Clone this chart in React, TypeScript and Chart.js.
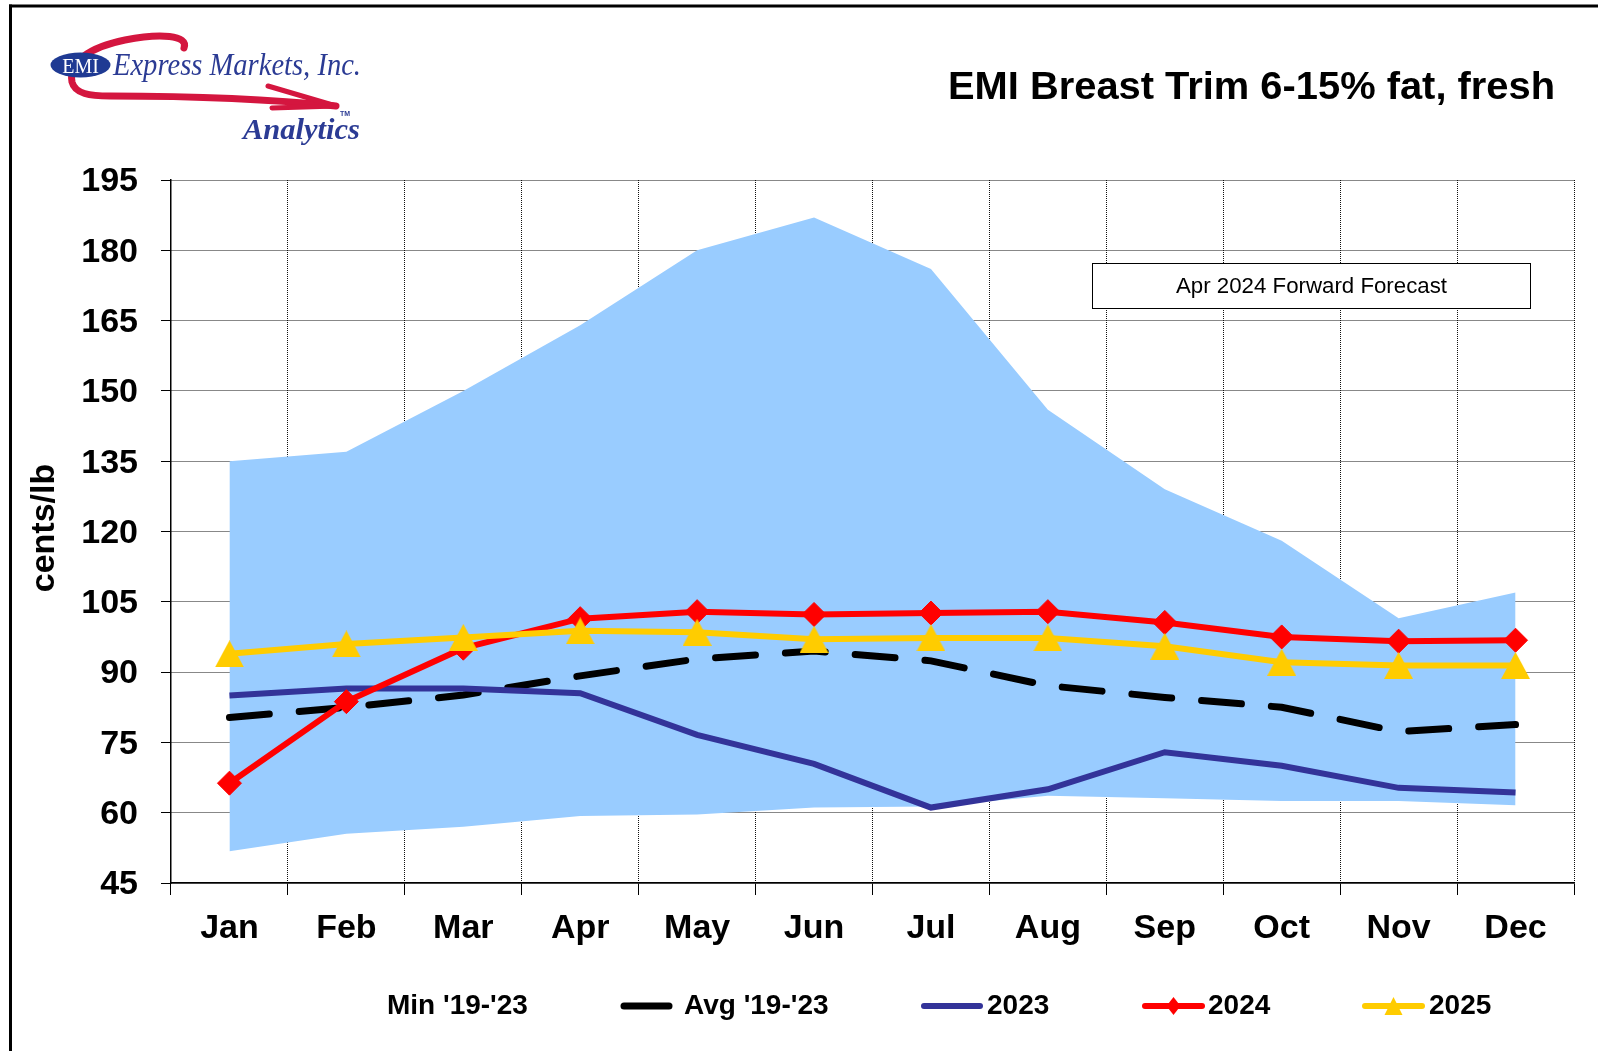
import React, { useEffect, useRef } from 'react';
import { Chart, registerables } from 'chart.js';

Chart.register(...registerables);

const months = ['Jan', 'Feb', 'Mar', 'Apr', 'May', 'Jun', 'Jul', 'Aug', 'Sep', 'Oct', 'Nov', 'Dec'];
const yTicks = [45, 60, 75, 90, 105, 120, 135, 150, 165, 180, 195];

const max1923 = [135, 137, 150, 164, 180, 187, 176, 146, 129, 118, 101.5, 107];
const min1923 = [51.8, 55.5, 57.0, 59.3, 59.6, 61.1, 61.3, 63.6, 63.1, 62.5, 62.5, 61.6];
const avg1923 = [80.3, 82.5, 85.1, 89.2, 92.8, 94.5, 92.4, 87.1, 84.6, 82.5, 77.3, 78.8];
const s2023 = [85.0, 86.5, 86.5, 85.5, 76.6, 70.4, 61.1, 65.0, 72.9, 70.0, 65.3, 64.3];
const s2024 = [66.3, 83.7, 95.1, 101.4, 102.9, 102.3, 102.6, 102.9, 100.6, 97.5, 96.6, 96.8];
const s2025 = [93.9, 96.0, 97.4, 98.8, 98.5, 97.0, 97.3, 97.3, 95.5, 92.1, 91.4, 91.4];

const titleText = 'EMI Breast Trim 6-15% fat, fresh';
const forecastText = 'Apr 2024 Forward Forecast';
const yAxisTitle = 'cents/lb';

const SANS = '"Liberation Sans", Arial, sans-serif';
const SERIF = '"Liberation Serif", "Times New Roman", serif';

const COL_AREA = '#99CCFF';
const COL_2023 = '#333399';
const COL_2024 = '#FF0000';
const COL_2025 = '#FFCC00';
const COL_LOGO = '#2B3B94';
const COL_SWOOSH = '#D4163F';

function makeTriangle(w: number, h: number, color: string) {
  const c = document.createElement('canvas');
  c.width = w;
  c.height = h;
  const g = c.getContext('2d')!;
  g.fillStyle = color;
  g.beginPath();
  g.moveTo(w / 2, 0);
  g.lineTo(w, h);
  g.lineTo(0, h);
  g.closePath();
  g.fill();
  return c;
}

function fitText(ctx: CanvasRenderingContext2D, text: string, x: number, y: number, targetW: number, align: 'left' | 'right' | 'center') {
  const w = ctx.measureText(text).width;
  let sx = targetW / w;
  if (sx > 1.12 || sx < 0.85) sx = 1;
  ctx.save();
  let ax = x;
  if (align === 'right') ax = x - w * sx;
  if (align === 'center') ax = x - (w * sx) / 2;
  ctx.translate(ax, y);
  ctx.scale(sx, 1);
  ctx.textAlign = 'left';
  ctx.fillText(text, 0, 0);
  ctx.restore();
}

function drawLogo(ctx: CanvasRenderingContext2D) {
  ctx.save();
  // red swoosh
  ctx.strokeStyle = COL_SWOOSH;
  ctx.lineCap = 'round';
  ctx.lineJoin = 'round';
  ctx.lineWidth = 7;
  ctx.beginPath();
  ctx.moveTo(184, 48);
  ctx.bezierCurveTo(189, 35, 160, 33, 125, 40);
  ctx.bezierCurveTo(90, 47, 68, 62, 72, 82);
  ctx.bezierCurveTo(75, 94, 90, 96, 110, 96);
  ctx.bezierCurveTo(180, 96, 260, 98, 336, 106);
  ctx.stroke();
  ctx.lineWidth = 5;
  ctx.beginPath();
  ctx.moveTo(268, 86);
  ctx.lineTo(336, 106);
  ctx.lineTo(272, 108);
  ctx.stroke();
  // ellipse
  ctx.fillStyle = '#1F3A93';
  ctx.beginPath();
  ctx.ellipse(80.5, 65, 30, 12.5, 0, 0, Math.PI * 2);
  ctx.fill();
  ctx.fillStyle = '#FFFFFF';
  ctx.font = `20px ${SERIF}`;
  ctx.textBaseline = 'alphabetic';
  fitText(ctx, 'EMI', 80.5, 72.5, 44, 'center');
  // company name
  ctx.fillStyle = COL_LOGO;
  ctx.font = `italic 31px ${SERIF}`;
  fitText(ctx, 'Express Markets, Inc.', 113, 75, 248, 'left');
  ctx.font = `italic bold 30px ${SERIF}`;
  fitText(ctx, 'Analytics', 243, 139, 117, 'left');
  ctx.font = `bold 7px ${SANS}`;
  ctx.fillText('TM', 340, 116);
  ctx.restore();
}

const decorPlugin = {
  id: 'decor',
  afterDraw(chart: any) {
    const ctx: CanvasRenderingContext2D = chart.ctx;
    ctx.save();
    // outer frame (top and left)
    ctx.fillStyle = '#000';
    ctx.fillRect(9, 4.5, 1598, 3);
    ctx.fillRect(9, 4.5, 3, 1051);

    drawLogo(ctx);

    // title
    ctx.fillStyle = '#000';
    ctx.font = `bold 39px ${SANS}`;
    ctx.textBaseline = 'alphabetic';
    fitText(ctx, titleText, 1555, 99, 607, 'right');

    // forecast box
    ctx.fillStyle = '#FFF';
    ctx.fillRect(1092.5, 263.5, 438, 45);
    ctx.strokeStyle = '#000';
    ctx.lineWidth = 1;
    ctx.strokeRect(1092.5, 263.5, 438, 45);
    ctx.fillStyle = '#000';
    ctx.font = `22px ${SANS}`;
    ctx.textBaseline = 'middle';
    fitText(ctx, forecastText, 1311.5, 287, 271, 'center');

    // y axis title
    ctx.save();
    ctx.translate(45, 528);
    ctx.rotate(-Math.PI / 2);
    ctx.font = `bold 34px ${SANS}`;
    ctx.textBaseline = 'middle';
    ctx.textAlign = 'center';
    ctx.fillText(yAxisTitle, 0, 0);
    ctx.restore();

    // legend
    const ly = 1006;
    const ds = chart.data.datasets;
    const items = [
      { i: 1, x0: 0, x1: 0, tx: 387 },
      { i: 2, x0: 621, x1: 672, tx: 684 },
      { i: 3, x0: 921, x1: 983, tx: 987 },
      { i: 4, x0: 1142, x1: 1205, tx: 1208 },
      { i: 5, x0: 1362, x1: 1425, tx: 1429 },
    ];
    ctx.font = `bold 28px ${SANS}`;
    ctx.textBaseline = 'middle';
    ctx.textAlign = 'left';
    for (const it of items) {
      const d = ds[it.i];
      if (it.x1 > it.x0) {
        ctx.save();
        ctx.strokeStyle = d.borderColor;
        ctx.lineWidth = d.borderWidth;
        ctx.lineCap = 'round';
        ctx.beginPath();
        ctx.moveTo(it.x0 + 3, ly);
        ctx.lineTo(it.x1 - 3, ly);
        ctx.stroke();
        const cx = (it.x0 + it.x1) / 2;
        if (d.pointStyle === 'rectRot') {
          ctx.fillStyle = d.pointBackgroundColor;
          ctx.beginPath();
          ctx.moveTo(cx - 7, ly);
          ctx.lineTo(cx, ly - 9);
          ctx.lineTo(cx + 7, ly);
          ctx.lineTo(cx, ly + 9);
          ctx.closePath();
          ctx.fill();
        } else if (d.pointStyle && typeof d.pointStyle === 'object') {
          ctx.fillStyle = d.borderColor;
          ctx.beginPath();
          ctx.moveTo(cx, ly - 9);
          ctx.lineTo(cx + 9, ly + 9);
          ctx.lineTo(cx - 9, ly + 9);
          ctx.closePath();
          ctx.fill();
        }
        ctx.restore();
      }
      ctx.fillStyle = '#000';
      ctx.fillText(d.label, it.tx, ly);
    }
    ctx.restore();
  },
};

export default function App() {
  const ref = useRef<HTMLCanvasElement>(null);
  useEffect(() => {
    const canvas = ref.current!;
    const tri = makeTriangle(29, 27, COL_2025);
    const chart = new Chart(canvas, {
      type: 'line',
      data: {
        labels: months,
        datasets: [
          { label: "Max '19-'23", data: max1923, borderWidth: 0, borderColor: 'rgba(0,0,0,0)', backgroundColor: COL_AREA, pointRadius: 0, fill: 1, order: 6 } as any,
          { label: "Min '19-'23", data: min1923, borderWidth: 0, borderColor: '#FFFFFF', backgroundColor: '#FFFFFF', pointRadius: 0, fill: false, order: 5 },
          { label: "Avg '19-'23", data: avg1923, borderColor: '#000000', borderWidth: 7, borderDash: [40, 30], borderCapStyle: 'round', pointRadius: 0, fill: false, order: 4 },
          { label: '2023', data: s2023, borderColor: COL_2023, borderWidth: 6, pointRadius: 0, fill: false, order: 3 },
          { label: '2024', data: s2024, borderColor: COL_2024, borderWidth: 6, pointStyle: 'rectRot', pointRadius: 12, pointBackgroundColor: COL_2024, pointBorderColor: COL_2024, pointBorderWidth: 1, fill: false, order: 2 },
          { label: '2025', data: s2025, borderColor: COL_2025, borderWidth: 6, pointStyle: tri, pointRadius: 14, pointBackgroundColor: COL_2025, pointBorderColor: COL_2025, fill: false, order: 1 },
        ],
      },
      options: {
        responsive: false,
        animation: false,
        devicePixelRatio: 1,
        events: [],
        layout: { padding: { left: 0, right: 24, top: 180, bottom: 0 } },
        plugins: {
          legend: { display: false },
          tooltip: { enabled: false },
          title: { display: false },
        },
        scales: {
          x: {
            type: 'category',
            offset: true,
            grid: { offset: true, color: '#111', lineWidth: 1, drawTicks: true, tickLength: 12, tickColor: '#000', tickWidth: 1 },
            border: { display: true, color: '#000', width: 1.5, dash: [1, 1] },
            ticks: { color: '#000', font: { family: SANS, size: 34, weight: 'bold' }, padding: 13, maxRotation: 0, autoSkip: false },
            afterFit: (s: any) => { s.height = 168; },
          },
          y: {
            min: 45,
            max: 195,
            afterBuildTicks: (s: any) => { s.ticks = yTicks.map((v) => ({ value: v })); },
            grid: { color: '#111', lineWidth: 1, drawTicks: true, tickLength: 10, tickColor: '#000', tickWidth: 1 },
            border: { display: true, color: '#000', width: 1.5, dash: [1, 1] },
            ticks: { color: '#000', font: { family: SANS, size: 34, weight: 'bold' }, padding: 23, labelOffset: 2 },
            afterFit: (s: any) => { s.width = 171; },
          },
        },
      } as any,
      plugins: [decorPlugin],
    });
    return () => chart.destroy();
  }, []);
  return (
    <canvas
      ref={ref}
      width={1598}
      height={1051}
      style={{ position: 'absolute', left: 0, top: 0, width: 1598, height: 1051 }}
    />
  );
}
